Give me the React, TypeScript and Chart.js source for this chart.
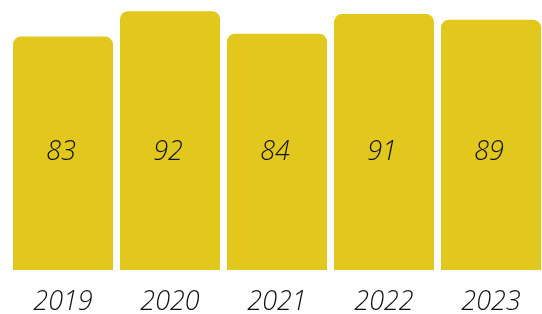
import React, { useEffect, useRef } from "react";
import { Chart, registerables } from "chart.js";

Chart.register(...registerables);

const categories = ["2019", "2020", "2021", "2022", "2023"];
const values = [83, 92, 84, 91, 89];
const barColor = "#E2C81D";
const FONT = "'Open Sans', 'Noto Sans', sans-serif";

const valueLabels = {
  id: "valueLabels",
  afterDatasetsDraw(chart: any) {
    const ctx = chart.ctx;
    const meta = chart.getDatasetMeta(0);
    const yScale = chart.scales.y;
    const y = yScale.getPixelForValue(42);
    ctx.save();
    ctx.font = `italic 350 27px ${FONT}`;
    ctx.fillStyle = "#111111";
    ctx.textAlign = "center";
    ctx.textBaseline = "middle";
    meta.data.forEach((bar: any, i: number) => {
      ctx.fillText(String(values[i]), bar.x - 2, y);
    });
    ctx.restore();
  },
};

export default function App() {
  const ref = useRef<HTMLCanvasElement | null>(null);
  useEffect(() => {
    if (!ref.current) return;
    const chart = new Chart(ref.current, {
      type: "bar",
      data: {
        labels: categories,
        datasets: [
          {
            data: values,
            backgroundColor: barColor,
            borderRadius: 8,
            borderSkipped: "start",
            categoryPercentage: 1,
            barPercentage: 100 / 107,
          },
        ],
      },
      options: {
        responsive: false,
        animation: false,
        layout: { padding: { left: 9.5, right: 1.5, top: 0, bottom: -20.4 } },
        plugins: { legend: { display: false }, tooltip: { enabled: false } },
        scales: {
          y: { display: false, min: 0, max: 96 },
          x: {
            grid: { display: false, drawTicks: false },
            border: { display: false },
            ticks: {
              padding: 16,
              color: "#111111",
              font: { family: FONT, size: 27, style: "italic", weight: 350 },
            },
          },
        },
      },
      plugins: [valueLabels],
    });
    return () => chart.destroy();
  }, []);
  return (
    <div style={{ position: "fixed", left: 0, top: 0, width: 542, height: 314, overflow: "hidden", background: "#fff" }}>
      <canvas ref={ref} width={546} height={314} style={{ display: "block" }} />
    </div>
  );
}
